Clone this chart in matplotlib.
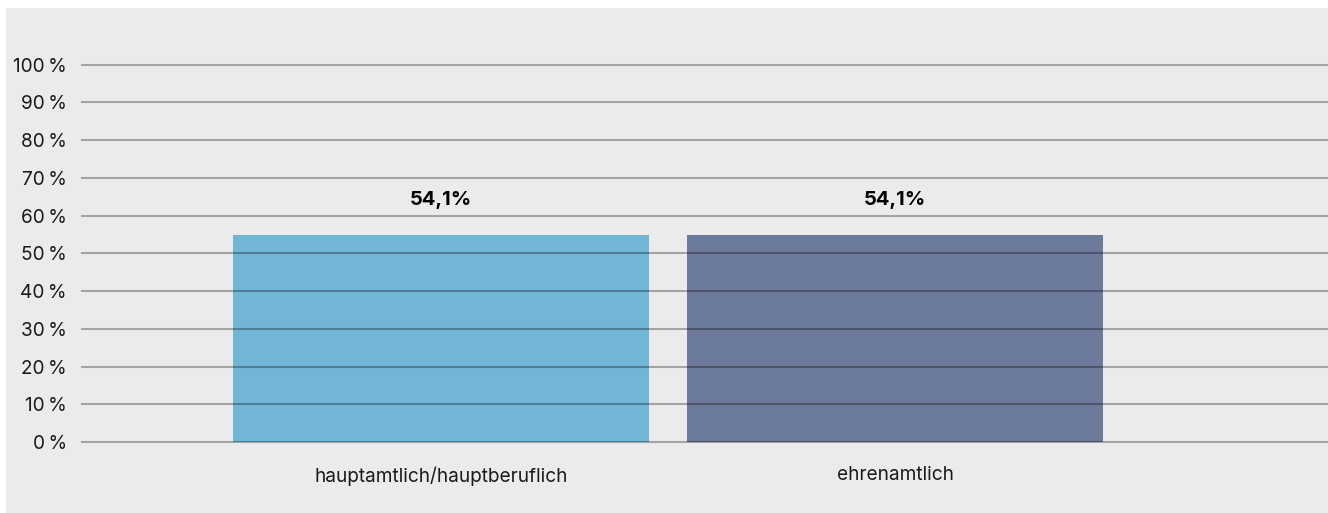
import matplotlib
matplotlib.use("Agg")
import matplotlib.pyplot as plt
from matplotlib.patches import Rectangle

categories = ["hauptamtlich/hauptberuflich", "ehrenamtlich"]
values = [54.9, 54.9]
value_labels = ["54,1%", "54,1%"]
colors = ["#71b7d5", "#6c7a9c"]
yticks = list(range(0, 101, 10))
ytick_labels = [f"{t}\u2009%" for t in yticks]

W, H = 1328, 513
plt.rcParams["font.family"] = ["Inter", "DejaVu Sans"]
fig = plt.figure(figsize=(W / 100, H / 100), dpi=100, facecolor="#ebebeb")

# white margins on the left and top
fig.patches.append(Rectangle((0, 0), 6 / W, 1, transform=fig.transFigure,
                             facecolor="white", edgecolor="none", zorder=0))
fig.patches.append(Rectangle((0, (H - 8) / H), 1, 8 / H, transform=fig.transFigure,
                             facecolor="white", edgecolor="none", zorder=0))

ax = fig.add_axes([82 / W, (H - 442) / H, (W - 82) / W, 434 / H])
ax.set_zorder(2)
ax.set_facecolor("none")
x = list(range(len(categories)))
ax.bar(x, values, width=0.916, color=colors, zorder=2)
ax.set_xlim(-0.791, 1.954)
ax.set_ylim(0, 115)
ax.set_yticks(yticks)
ax.set_yticklabels(ytick_labels, fontsize=13.7, color="#1a1a1a")
ax.set_xticks(x)
ax.set_xticklabels(categories, fontsize=13.7, color="#1a1a1a")
ax.tick_params(axis="y", length=0, pad=11)
ax.tick_params(axis="x", length=0, pad=17.5)
for s in ax.spines.values():
    s.set_visible(False)
for t in yticks:
    ax.axhline(t, color="black", alpha=0.3, lw=1.5, zorder=3, clip_on=False)
for xi, v, lab in zip(x, values, value_labels):
    ax.annotate(lab, (xi, v), xytext=(0, 25), textcoords="offset points",
                ha="center", va="center", fontsize=14.5, fontweight="bold",
                color="black")

fig.savefig("out.png", dpi=100, facecolor=fig.get_facecolor())
